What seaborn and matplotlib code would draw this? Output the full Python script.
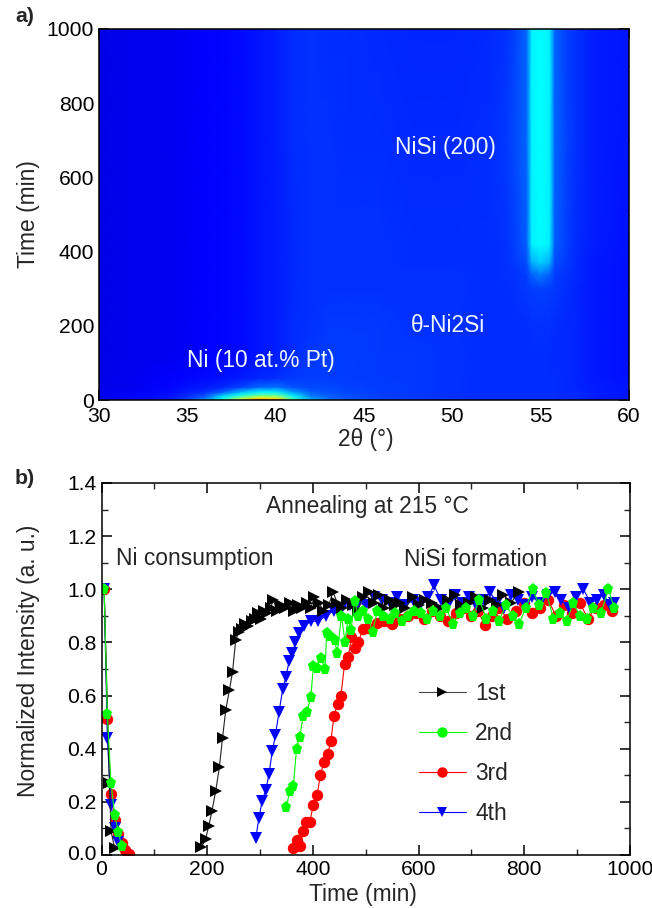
import numpy as np
import matplotlib
matplotlib.use("Agg")
import matplotlib.pyplot as plt
from matplotlib.colors import LinearSegmentedColormap
from matplotlib.ticker import MultipleLocator, FormatStrFormatter
from matplotlib.transforms import ScaledTranslation
import seaborn as sns

# ---------- panel a: intensity map ----------
two_theta = [30, 32, 34, 35, 36, 37, 38, 39, 40, 41, 42, 43, 44, 46, 48, 50, 52, 53,
             53.5, 54.2, 54.5, 55, 55.5, 55.8, 56.5, 57, 58, 60]
map_time = [0, 4, 8, 14, 22, 35, 60, 120, 200, 300, 340, 370, 420, 700, 1000]

row_0 = [.10, .115, .135, .18, .26, .42, .62, .84, .82, .50, .30, .23, .20, .175, .165, .16, .155, .155, .155, .155, .155, .155, .155, .155, .15, .15, .14, .13]
row_4 = [.10, .115, .135, .17, .24, .38, .56, .70, .68, .42, .27, .22, .195, .175, .165, .16, .155, .155, .155, .155, .155, .155, .155, .155, .15, .15, .14, .13]
row_8 = [.10, .115, .13, .16, .21, .35, .47, .58, .57, .38, .25, .21, .19, .175, .165, .16, .155, .155, .155, .155, .155, .155, .155, .155, .15, .15, .14, .13]
row_14 = [.10, .11, .125, .15, .18, .29, .38, .45, .45, .33, .22, .20, .185, .17, .165, .16, .155, .155, .155, .155, .155, .155, .155, .155, .15, .15, .14, .13]
row_22 = [.095, .105, .12, .14, .155, .20, .29, .35, .35, .26, .20, .19, .18, .17, .165, .16, .155, .155, .155, .155, .155, .155, .155, .155, .15, .15, .14, .13]
row_35 = [.09, .10, .115, .125, .135, .15, .175, .21, .22, .19, .18, .18, .175, .17, .165, .16, .155, .155, .155, .155, .155, .155, .155, .155, .15, .145, .14, .13]
row_60 = [.09, .10, .11, .115, .12, .125, .135, .145, .155, .165, .17, .17, .17, .165, .165, .16, .155, .155, .155, .155, .155, .155, .155, .155, .15, .145, .135, .125]
row_120 = [.09, .095, .10, .105, .11, .115, .12, .13, .14, .155, .165, .17, .17, .165, .165, .16, .155, .155, .155, .155, .155, .155, .155, .15, .15, .145, .135, .125]
row_200 = [.09, .095, .10, .105, .11, .115, .12, .13, .14, .155, .16, .165, .165, .165, .16, .16, .155, .155, .155, .155, .16, .16, .16, .155, .15, .145, .135, .125]
row_300 = [.09, .095, .10, .105, .11, .115, .12, .13, .14, .15, .16, .16, .16, .16, .16, .16, .155, .155, .16, .165, .17, .175, .17, .165, .155, .145, .135, .125]
row_340 = [.09, .095, .10, .105, .11, .115, .12, .13, .14, .15, .16, .16, .16, .16, .16, .16, .155, .16, .16, .17, .21, .235, .21, .17, .16, .15, .135, .125]
row_370 = [.09, .095, .10, .105, .11, .115, .12, .13, .14, .15, .16, .16, .16, .16, .155, .155, .155, .16, .165, .185, .28, .31, .28, .185, .165, .15, .135, .125]
row_420 = [.09, .095, .10, .105, .11, .115, .12, .13, .14, .15, .16, .16, .16, .16, .155, .155, .155, .16, .17, .20, .345, .36, .345, .20, .17, .155, .14, .125]
row_700 = [.09, .095, .10, .105, .11, .115, .12, .13, .14, .155, .16, .16, .155, .155, .15, .15, .155, .165, .18, .21, .35, .36, .35, .21, .175, .16, .14, .13]
row_1000 = [.09, .095, .10, .105, .11, .115, .12, .13, .14, .155, .16, .155, .155, .15, .145, .145, .15, .16, .175, .21, .35, .36, .35, .21, .17, .16, .14, .13]

map_rows = [row_0, row_4, row_8, row_14, row_22, row_35, row_60, row_120, row_200,
            row_300, row_340, row_370, row_420, row_700, row_1000]

# ---------- panel b: normalized intensity ----------
# Ni consumption (decay) and NiSi formation (rise) are separate runs
first_decay_t = [5, 15, 18, 25]
first_decay_y = [1.0, .27, .09, .025]
second_decay_t = [5, 11, 18, 25, 32, 38]
second_decay_y = [1.0, .53, .27, .15, .085, .035]
third_decay_t = [5, 11, 18, 25, 32, 38, 45, 52]
third_decay_y = [1.0, .51, .23, .13, .08, .045, .02, .005]
fourth_decay_t = [5, 11, 18, 25, 32]
fourth_decay_y = [1.0, .44, .19, .10, .05]

first_t = [189, 197, 203, 209, 216, 223, 229, 235, 242, 248, 254, 260, 266, 272, 278, 284,
           290, 296, 302, 308, 314, 320, 325, 332, 340, 348, 356, 364, 372, 380, 388, 396, 403, 411, 420, 430,
           438, 446, 455, 465, 475, 485, 495, 507, 515, 526, 535, 545, 555, 565, 575, 590, 600, 612, 625, 640,
           655, 668, 680, 695, 708, 722, 735, 748, 760, 775, 790]
first_y = [.03, .06, .11, .165, .24, .33, .44, .545, .62, .69, .81, .84, .85, .87, .86, .88,
           .89, .91, .89, .92, .91, .93, .96, .92, .94, .93, .95, .92, .94, .93, .95, .93, .97, .95, .92, .94,
           .99, .95, .93, .96, .94, .92, .97, .99, .95, .98, .93, .96, .94, .95, .93, .97, .94, .96, .95, .93,
           .96, .98, .94, .95, .97, .93, .96, .94, .98, .95, .99]
second_t = [350, 356, 363, 369, 375, 382, 389, 396, 401, 407, 415, 423, 426, 433,
            441, 446, 454, 461, 466, 472, 479, 486, 495, 505, 513, 522, 532, 545, 556, 568, 580, 592, 604, 615,
            628, 640, 652, 665, 678, 690, 703, 715, 728, 740, 752, 765, 778, 790, 803, 816, 828, 842, 855, 868,
            880, 893, 905, 918, 930, 945, 959, 970]
second_y = [.18, .24, .26, .40, .445, .525, .54, .595, .71, .705, .74, .70, .835, .825,
            .81, .76, .90, .80, .89, .845, .955, .90, .92, .89, .84, .92, .90, .89, .91, .88, .90, .92, .91, .89,
            .92, .90, .93, .87, .91, .93, .90, .96, .89, .92, .88, .94, .90, .87, .93, 1.0, .94, .985, .89, .91,
            .88, .95, .90, .89, .93, .91, 1.0, .93]
third_t = [362, 369, 376, 381, 387, 394, 401, 408, 414, 421, 428, 434,
           440, 447, 453, 460, 467, 473, 479, 486, 494, 505, 521, 535, 550, 565, 580, 595, 610, 625, 640, 655,
           670, 685, 700, 712, 725, 738, 752, 768, 785, 800, 815, 830, 845, 860, 875, 890, 905, 920, 935, 950, 965]
third_y = [.025, .055, .035, .09, .125, .125, .19, .225, .30, .35, .38, .43,
           .525, .57, .60, .72, .745, .82, .78, .80, .85, .855, .875, .88, .87, .89, .90, .91, .89, .92, .90, .88,
           .91, .93, .90, .92, .865, .90, .93, .89, .92, .95, .91, .93, .96, .90, .94, .91, .95, .89, .93, .94, .92]
fourth_t = [292, 298, 304, 311, 317, 323, 329, 336, 343, 349, 355, 361, 367, 374, 383,
            396, 410, 425, 440, 455, 470, 485, 500, 515, 530, 545, 560, 575, 590, 605, 618, 629, 642, 655, 668,
            682, 695, 708, 722, 735, 748, 762, 775, 788, 802, 815, 830, 845, 858, 870, 885, 898, 912, 925, 938,
            950, 962, 970]
fourth_y = [.065, .14, .205, .245, .305, .39, .45, .54, .625, .67, .73, .76, .80, .835, .86,
            .88, .88, .90, .92, .93, .94, .95, .94, .97, .96, .95, .97, .94, .96, .95, .97, 1.015, .96, .94, .98,
            .95, .97, .94, .96, .99, .95, .93, .98, .96, .94, .97, .95, .98, .99, .96, .93, .97, 1.0, .95, .96,
            .98, .94, .95]

labels_x_b = [0, 200, 400, 600, 800, 1000]
labels_y_b = [0.0, 0.2, 0.4, 0.6, 0.8, 1.0, 1.2, 1.4]

sns.set_theme(style="ticks", rc={"axes.linewidth": 1.1, "xtick.direction": "in", "ytick.direction": "in"})
plt.rcParams["font.family"] = ["Liberation Sans", "DejaVu Sans"]
fs = 16.4
tick_fs = 15.2
W, H = 652.0, 908.0

# jet-like map, but with a pure cyan like the picture
map_cmap = LinearSegmentedColormap.from_list("map_jet", [(0, (0, 0, .5)), (.11, (0, 0, 1)), (.36, (0, 1, 1)),
                                                         (.64, (1, 1, 0)), (.89, (1, 0, 0)), (1, (.5, 0, 0))])


def frame(ax):
    ax.tick_params(which="major", length=7, width=1.1, top=True, right=True, labelsize=tick_fs, pad=3.5, colors="black")
    ax.tick_params(which="minor", length=4, width=1.0, top=True, right=True)
    for s in ax.spines.values():
        s.set_visible(True)
        s.set_color("black")


def lift_zero_label(ax):
    # the lowest y label sits a bit above its tick in the picture
    lab = ax.yaxis.get_major_ticks()[0].label1
    lab.set_transform(lab.get_transform() + ScaledTranslation(0, 3 / 72 * 0.72, ax.figure.dpi_scale_trans))


fig = plt.figure(figsize=(6.52, 9.08), dpi=100, facecolor="white")
ax1 = fig.add_axes([99 / W, 1 - 400 / H, 530 / W, 371 / H])
ax2 = fig.add_axes([101.5 / W, 1 - 855 / H, 528.5 / W, 372 / H])

# panel a
ax1.pcolormesh(two_theta, map_time, np.array(map_rows), shading="gouraud", cmap=map_cmap, vmin=0, vmax=1, rasterized=True)
ax1.set_xlim(30, 60)
ax1.set_ylim(0, 1000)
ax1.xaxis.set_major_locator(MultipleLocator(5))
ax1.yaxis.set_major_locator(MultipleLocator(200))
ax1.yaxis.set_minor_locator(MultipleLocator(100))
frame(ax1)
ax1.tick_params(axis="x", which="major", pad=5)
lift_zero_label(ax1)
ax1.set_xlabel("2θ (°)", fontsize=fs)
ax1.xaxis.set_label_coords(0.504, (400 - 428) / 371)
ax1.set_ylabel("Time (min)", fontsize=fs)
ax1.yaxis.set_label_coords((40 - 99) / 530, 0.5)
ax1.text(445.5 / W, 1 - 148 / H, "NiSi (200)", transform=fig.transFigure, color="#eef6ff", fontsize=fs, ha="center", va="center")
ax1.text(447.5 / W, 1 - 325 / H, "θ-Ni2Si", transform=fig.transFigure, color="#eef6ff", fontsize=fs, ha="center", va="center")
ax1.text(260.5 / W, 1 - 360 / H, "Ni (10 at.% Pt)", transform=fig.transFigure, color="#eef6ff", fontsize=fs, ha="center", va="center")

# panel b, order bottom to top as in the picture
line_kw = dict(sort=False, estimator=None, errorbar=None, ax=ax2, markersize=8.2, markeredgewidth=0, linewidth=0.8, legend=False)
sns.lineplot(x=third_decay_t, y=third_decay_y, color="#ff0000", marker="o", **line_kw)
sns.lineplot(x=third_t, y=third_y, color="#ff0000", marker="o", **line_kw)
sns.lineplot(x=fourth_decay_t, y=fourth_decay_y, color="#0000ff", marker="v", **line_kw)
sns.lineplot(x=fourth_t, y=fourth_y, color="#0000ff", marker="v", **line_kw)
sns.lineplot(x=first_decay_t, y=first_decay_y, color="#222222", marker=">", markerfacecolor="black", **line_kw)
sns.lineplot(x=first_t, y=first_y, color="#222222", marker=">", markerfacecolor="black", **line_kw)
sns.lineplot(x=second_decay_t, y=second_decay_y, color="#00ff00", marker="p", **line_kw)
sns.lineplot(x=second_t, y=second_y, color="#00ff00", marker="p", **line_kw)

ax2.set_xlim(0, 1000)
ax2.set_ylim(0, 1.4)
ax2.set_xticks(labels_x_b)
ax2.set_yticks(labels_y_b)
ax2.xaxis.set_minor_locator(MultipleLocator(100))
ax2.yaxis.set_minor_locator(MultipleLocator(0.1))
ax2.yaxis.set_major_formatter(FormatStrFormatter("%.1f"))
frame(ax2)
lift_zero_label(ax2)
ax2.set_xlabel("Time (min)", fontsize=fs)
ax2.xaxis.set_label_coords(0.495, (855 - 883) / 372)
ax2.set_ylabel("Normalized Intensity (a. u.)", fontsize=fs)
ax2.yaxis.set_label_coords((40 - 101.5) / 528.5, 0.523)

ax2.text(367 / W, 1 - 507 / H, "Annealing at 215 °C", transform=fig.transFigure, fontsize=fs, ha="center", va="center")
ax2.text(195 / W, 1 - 559 / H, "Ni consumption", transform=fig.transFigure, fontsize=fs, ha="center", va="center")
ax2.text(475.5 / W, 1 - 559 / H, "NiSi formation", transform=fig.transFigure, fontsize=fs, ha="center", va="center")

# legend
names = ["1st", "2nd", "3rd", "4th"]
cols = ["#444444", "#00ff00", "#ff0000", "#0000ff"]
marks = [">", "o", "o", "v"]
handles = [plt.Line2D([], [], color=c, marker=m, markersize=7.5, markeredgewidth=0, linewidth=0.8, label=n,
                      markerfacecolor="black" if n == "1st" else c)
           for c, m, n in zip(cols, marks, names)]
ax2.legend(handles=handles, loc="upper left", bbox_to_anchor=((419 - 101.5) / 528.5, (855 - 682) / 372), frameon=False,
           fontsize=fs, handlelength=2.06, handletextpad=0.4, labelspacing=0.75, borderpad=0, borderaxespad=0)

fig.text(15 / W, 1 - 17 / H, "a)", fontsize=15.4, fontweight="bold", va="center")
fig.text(15 / W, 1 - 478 / H, "b)", fontsize=15.4, fontweight="bold", va="center")

fig.savefig("out.png", dpi=100)
